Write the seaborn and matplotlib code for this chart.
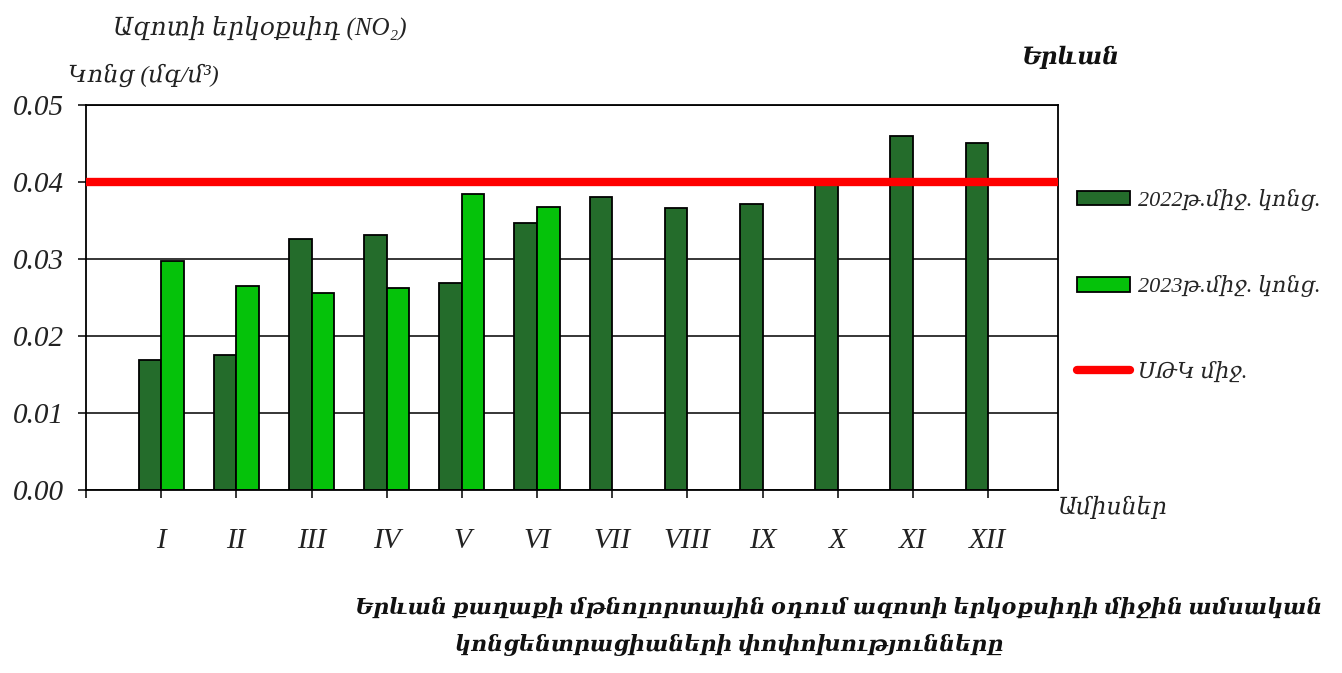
import numpy as np
import pandas as pd
import matplotlib
matplotlib.use("Agg")
import matplotlib.pyplot as plt
import seaborn as sns
from matplotlib.patches import Patch
from matplotlib.lines import Line2D

months = ['I', 'II', 'III', 'IV', 'V', 'VI', 'VII', 'VIII', 'IX', 'X', 'XI', 'XII']
conc_2022 = [0.0169, 0.0175, 0.0326, 0.0331, 0.0269, 0.0347,
             0.0381, 0.0366, 0.0371, 0.0399, 0.0460, 0.0451]
conc_2023 = [0.0297, 0.0265, 0.0256, 0.0262, 0.0384, 0.0368,
             np.nan, np.nan, np.nan, np.nan, np.nan, np.nan]
limit_value = 0.04

labels = ['2022թ.միջ. կոնց.', '2023թ.միջ. կոնց.', 'ՍԹԿ միջ.']
dark_green = '#246c2b'
light_green = '#05c20a'

dataframe = pd.DataFrame({
    'month': months * 2,
    'year': ['2022'] * len(months) + ['2023'] * len(months),
    'conc': conc_2022 + conc_2023,
})

sns.set_style('white')
plt.rcParams['font.family'] = ['Liberation Serif', 'DejaVu Serif', 'DejaVu Sans']
plt.rcParams['font.style'] = 'italic'

W, H = 1342, 673
fig = plt.figure(figsize=(W / 100, H / 100), dpi=100)


def fx(px):
    return px / W


def fy(py):
    return 1 - py / H


ax = fig.add_axes([fx(86), fy(490), fx(1058 - 86), (490 - 105) / H])

sns.barplot(data=dataframe, x='month', y='conc', hue='year',
            palette=[dark_green, light_green], saturation=1, width=0.6,
            errorbar=None, edgecolor='black', linewidth=1.3, legend=False, ax=ax)

ax.axhline(limit_value, color='#ff0000', lw=6, zorder=5)

ax.set_ylim(0, 0.05)
ax.set_yticks(np.arange(0, 0.051, 0.01))
ax.yaxis.set_major_formatter(matplotlib.ticker.FormatStrFormatter('%.2f'))
ax.set_xlim(-1, 11.93)
ax.set_xticks(range(len(months)))
ax.set_xticklabels(months)
ax.set_xticks([-1], minor=True)
ax.set_xlabel('')
ax.set_ylabel('')

ax.yaxis.grid(True, color='black', lw=1.1)
ax.set_axisbelow(True)
for sp in ax.spines.values():
    sp.set_color('black')
    sp.set_linewidth(1.3)

ax.tick_params(axis='both', which='both', direction='out', length=6,
               width=1.1, color='black', labelsize=21, labelcolor='#222222')
ax.tick_params(axis='x', which='both', pad=21, bottom=True)
ax.tick_params(axis='y', pad=10, left=True)

fig.text(fx(113), fy(28), 'Ազոտի երկօքսիդ (NO₂)', fontsize=18,
         va='center', ha='left', color='#222222')
fig.text(fx(68), fy(75), 'Կոնց (մգ/մ³)', fontsize=17.5,
         va='center', ha='left', color='#222222')
fig.text(fx(1022), fy(57), 'Երևան', fontsize=17, fontweight='bold',
         va='center', ha='left', color='#111111')
fig.text(fx(1058), fy(507), 'Ամիսներ', fontsize=17,
         va='center', ha='left', color='#222222')
fig.text(fx(355), fy(608),
         'Երևան քաղաքի մթնոլորտային օդում ազոտի երկօքսիդի միջին ամսական',
         fontsize=15.9, fontweight='bold', va='center', ha='left', color='#111111')
fig.text(fx(455), fy(645), 'կոնցենտրացիաների փոփոխությունները',
         fontsize=15.9, fontweight='bold', va='center', ha='left', color='#111111')

handles = [
    Patch(facecolor=dark_green, edgecolor='black', linewidth=1.3),
    Patch(facecolor=light_green, edgecolor='black', linewidth=1.3),
    Line2D([], [], color='#ff0000', lw=6),
]
fig.legend(handles, labels, loc='upper left',
           bbox_to_anchor=(fx(1068), fy(180)), frameon=False,
           fontsize=16, labelspacing=2.9, handlelength=2.4,
           handleheight=0.65, handletextpad=0.35, borderaxespad=0)

fig.savefig('out.png', dpi=100)
